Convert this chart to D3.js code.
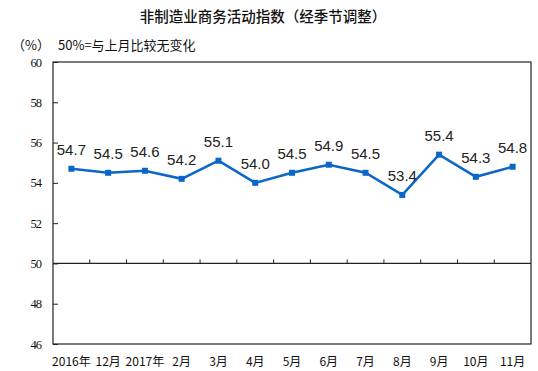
<!DOCTYPE html>
<html>
<head>
<meta charset="utf-8">
<script src="https://cdn.jsdelivr.net/npm/d3@7"></script>
<style>
  body { margin: 0; background: #fff; }
  svg { display: block; }
</style>
</head>
<body>
<div id="chart"></div>
<script>
// Data
const months = [["2016年", "11月"], ["12月"], ["2017年", "1月"], ["2月"], ["3月"], ["4月"], ["5月"], ["6月"], ["7月"], ["8月"], ["9月"], ["10月"], ["11月"]];
const values = [54.7, 54.5, 54.6, 54.2, 55.1, 54.0, 54.5, 54.9, 54.5, 53.4, 55.4, 54.3, 54.8];
const yTicks = [46, 48, 50, 52, 54, 56, 58, 60];

const width = 538, height = 371;
const margin = { top: 62, right: 7, bottom: 27, left: 53 };
const innerW = width - margin.left - margin.right;
const innerH = height - margin.top - margin.bottom;

const svg = d3.select("#chart")
  .append("svg")
  .attr("width", width)
  .attr("height", height);

// Title and notes
svg.append("text")
  .attr("x", 263)
  .attr("y", 22)
  .attr("text-anchor", "middle")
  .attr("font-family", "Noto Sans CJK SC")
  .attr("font-size", 14.5)
  .attr("font-weight", 500)
  .attr("fill", "#111")
  .text("非制造业商务活动指数（经季节调整）");

svg.append("text")
  .attr("x", 12)
  .attr("y", 50)
  .attr("font-family", "Noto Sans CJK SC")
  .attr("font-size", 13)
  .attr("fill", "#111")
  .text("（%）");

svg.append("text")
  .attr("x", 58)
  .attr("y", 50)
  .attr("font-family", "Noto Sans CJK SC")
  .attr("font-size", 13)
  .attr("fill", "#111")
  .text("50%=与上月比较无变化");

const chart = svg.append("g")
  .attr("transform", `translate(${margin.left}, ${margin.top})`);

const x = d3.scaleBand()
  .domain(d3.range(values.length))
  .range([0, innerW])
  .padding(0);
const y = d3.scaleLinear()
  .domain([46, 60])
  .range([innerH, 0]);

// Frame
chart.append("rect")
  .attr("x", 0)
  .attr("y", 0)
  .attr("width", innerW)
  .attr("height", innerH)
  .attr("fill", "none")
  .attr("stroke", "#222")
  .attr("stroke-width", 1.2);

// Y axis (ticks inward)
const yAxis = chart.append("g")
  .call(d3.axisLeft(y).tickValues(yTicks).tickSize(-5).tickPadding(12));
yAxis.select(".domain").remove();
yAxis.selectAll("line").attr("stroke", "#222");
yAxis.selectAll("text")
  .attr("font-family", "Liberation Serif")
  .attr("font-size", 12.5)
  .attr("fill", "#111")
  .style("letter-spacing", "-1px");

// 50% baseline with category ticks
const y50 = y(50);
chart.append("line")
  .attr("x1", 0)
  .attr("x2", innerW)
  .attr("y1", y50)
  .attr("y2", y50)
  .attr("stroke", "#222")
  .attr("stroke-width", 1.2);

chart.selectAll(".cat-tick")
  .data(d3.range(1, values.length))
  .enter().append("line")
  .attr("x1", d => x(d))
  .attr("x2", d => x(d))
  .attr("y1", y50)
  .attr("y2", y50 - 4)
  .attr("stroke", "#222");

// X labels (second line falls off the bottom edge, as in the original)
const xl = chart.selectAll(".xlabel")
  .data(months)
  .enter().append("text")
  .attr("text-anchor", "middle")
  .attr("font-family", "Noto Sans CJK SC")
  .attr("font-size", 12)
  .attr("fill", "#111")
  .attr("transform", (d, i) => `translate(${x(i) + x.bandwidth() / 2}, ${innerH + 22})`);
xl.selectAll("tspan")
  .data(d => d)
  .enter().append("tspan")
  .attr("x", 0)
  .attr("dy", (d, i) => i === 0 ? 0 : 17)
  .text(d => d);

// Line
const line = d3.line()
  .x((d, i) => x(i) + x.bandwidth() / 2)
  .y(d => y(d));

chart.append("path")
  .datum(values)
  .attr("d", line)
  .attr("fill", "none")
  .attr("stroke", "#0A66C8")
  .attr("stroke-width", 2.5);

chart.selectAll(".pt")
  .data(values)
  .enter().append("rect")
  .attr("x", (d, i) => x(i) + x.bandwidth() / 2 - 3)
  .attr("y", d => y(d) - 3)
  .attr("width", 6)
  .attr("height", 6)
  .attr("fill", "#0A66C8");

// Value labels
chart.selectAll(".val")
  .data(values)
  .enter().append("text")
  .attr("x", (d, i) => x(i) + x.bandwidth() / 2)
  .attr("y", d => y(d) - 14)
  .attr("text-anchor", "middle")
  .attr("font-family", "Liberation Sans")
  .attr("font-size", 15)
  .attr("fill", "#222")
  .text(d => d.toFixed(1));
</script>
</body>
</html>
